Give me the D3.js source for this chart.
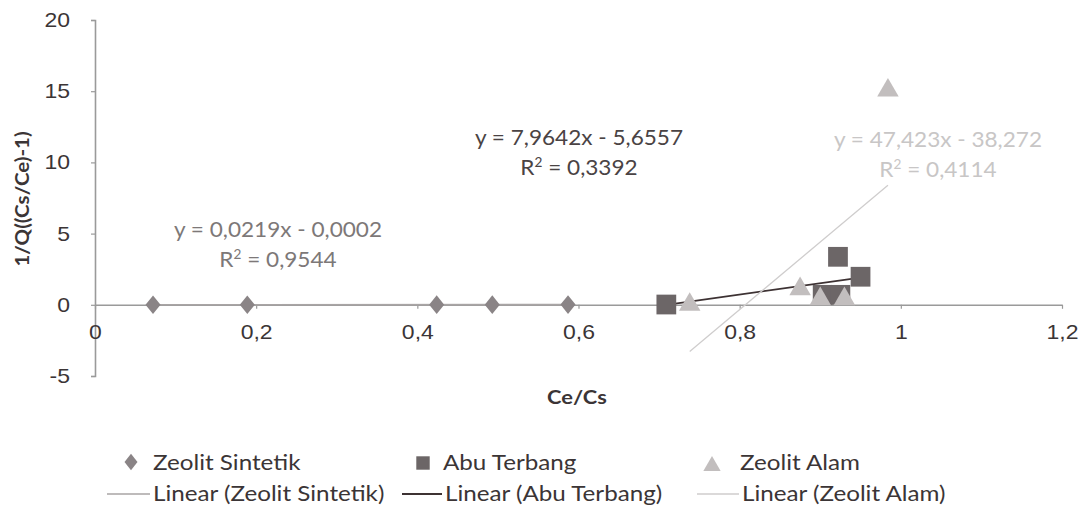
<!DOCTYPE html>
<html>
<head>
<meta charset="utf-8">
<script src="https://cdn.jsdelivr.net/npm/d3@7"></script>
<style>
  html, body { margin: 0; padding: 0; background: #ffffff; }
  svg { display: block; font-family: Lato, "Open Sans", sans-serif; }
</style>
</head>
<body>
<svg id="chart" width="1085" height="528"></svg>
<script>
// Series: Ce/Cs (x) against 1/Q((Cs/Ce)-1) (y)
const sintetikX = [0.072, 0.189, 0.424, 0.493, 0.587];
const sintetikY = [0.0016, 0.0036, 0.0094, 0.0103, 0.0128];

const abuX = [0.709, 0.903, 0.922, 0.925, 0.950];
const abuY = [0.02, 0.70, 3.37, 0.70, 1.97];

const alamX = [0.738, 0.875, 0.900, 0.930, 0.984];
const alamY = [0.15, 1.25, 0.55, 0.55, 15.2];

// Linear trend lines (slope, intercept) and their labels
const seriesNames = ["Zeolit Sintetik", "Abu Terbang", "Zeolit Alam"];
const trendSlopes = [0.0219, 7.9642, 47.423];
const trendIntercepts = [-0.0002, -5.6557, -38.272];
const trendEquations = ["y = 0,0219x - 0,0002", "y = 7,9642x - 5,6557", "y = 47,423x - 38,272"];
const trendR2 = ["0,9544", "0,3392", "0,4114"];

// Axis ticks
const xTicks = [0, 0.2, 0.4, 0.6, 0.8, 1, 1.2];
const yTicks = [-5, 0, 5, 10, 15, 20];

const svg = d3.select("#chart");
const fmt = v => String(v).replace(".", ",");

const x = d3.scaleLinear().domain([0, 1.2]).range([95, 1062]);
const y = d3.scaleLinear().domain([-5, 20]).range([376, 20]);

const axisColor = "#9a9a9a";
const textColor = "#3b3536";

// Text placed at (px, py), widened horizontally by sx around its anchor
function label(parent, px, py, str, opts) {
  const o = Object.assign({ size: 21, sx: 1.1, anchor: "start", fill: textColor, weight: "normal" }, opts);
  return parent.append("text")
    .attr("transform", `translate(${px},${py}) scale(${o.sx},1)`)
    .attr("text-anchor", o.anchor)
    .attr("font-size", o.size)
    .attr("font-weight", o.weight)
    .attr("fill", o.fill)
    .text(str);
}

const tickSize = 20, tickSx = 1.15;

// Vertical axis
const yAxis = svg.append("g")
  .attr("transform", `translate(${x(0)},0)`)
  .call(d3.axisLeft(y).tickValues(yTicks).tickSize(4).tickPadding(21).tickFormat(d => d));
yAxis.select(".domain").attr("stroke", axisColor).attr("stroke-width", 1.6);
yAxis.selectAll(".tick line").attr("stroke", axisColor).attr("stroke-width", 1.2);
yAxis.selectAll(".tick text")
  .attr("fill", textColor).attr("font-size", tickSize)
  .attr("x", -25 / tickSx)
  .attr("transform", `scale(${tickSx},1)`);

// Horizontal axis on the zero line
const xAxis = svg.append("g")
  .attr("transform", `translate(0,${y(0)})`)
  .call(d3.axisBottom(x).tickValues(xTicks).tickSizeInner(4).tickSizeOuter(0).tickPadding(16).tickFormat(fmt));
xAxis.select(".domain").attr("stroke", axisColor).attr("stroke-width", 1.6);
xAxis.selectAll(".tick line").attr("stroke", axisColor).attr("stroke-width", 1.2);
xAxis.selectAll(".tick text")
  .attr("fill", textColor).attr("font-size", tickSize)
  .attr("transform", `scale(${tickSx},1)`);

// Axis titles
label(svg, 577, 404, "Ce/Cs", { size: 19, sx: 1.15, anchor: "middle", weight: "bold" });
svg.append("text")
  .attr("transform", `translate(29,199) rotate(-90) scale(1.08,1)`)
  .attr("text-anchor", "middle")
  .attr("font-size", 19).attr("font-weight", "bold").attr("fill", textColor)
  .text("1/Q((Cs/Ce)-1)");

// Trend line styles
const trendColors = ["#a9a5a5", "#3d3233", "#cfcdcd"];
const trendWidths = [1.6, 1.8, 1.3];
const seriesX = [sintetikX, abuX, alamX];

seriesX.forEach((xs, i) => {
  const x0 = d3.min(xs), x1 = d3.max(xs);
  const f = v => trendSlopes[i] * v + trendIntercepts[i];
  svg.append("line")
    .attr("x1", x(x0)).attr("y1", y(f(x0)))
    .attr("x2", x(x1)).attr("y2", y(f(x1)))
    .attr("stroke", trendColors[i])
    .attr("stroke-width", trendWidths[i]);
});

// Markers
const diamond = d3.symbol().type(d3.symbolDiamond).size(100);
const square = d3.symbol().type(d3.symbolSquare).size(390);
const triangle = d3.symbol().type(d3.symbolTriangle).size(200);

const markerColors = ["#8a8486", "#6c6667", "#c2bebe"];

svg.append("g").selectAll("path")
  .data(d3.zip(sintetikX, sintetikY))
  .join("path")
  .attr("d", diamond)
  .attr("transform", d => `translate(${x(d[0])},${y(d[1])}) scale(1.4,1)`)
  .attr("fill", markerColors[0]);

svg.append("g").selectAll("path")
  .data(d3.zip(abuX, abuY))
  .join("path")
  .attr("d", square)
  .attr("transform", d => `translate(${x(d[0])},${y(d[1])})`)
  .attr("fill", markerColors[1]);

svg.append("g").selectAll("path")
  .data(d3.zip(alamX, alamY))
  .join("path")
  .attr("d", triangle)
  .attr("transform", d => `translate(${x(d[0])},${y(d[1]) + 2})`)
  .attr("fill", markerColors[2]);

// Trend equation labels
const labelPos = [[278, 237], [579, 145], [938, 147]];
const labelColors = ["#7d7878", "#4a4344", "#c8c6c6"];
labelPos.forEach((p, i) => {
  label(svg, p[0], p[1], trendEquations[i], { size: 21.5, sx: 1.05, anchor: "middle", fill: labelColors[i] });
  const r = label(svg, p[0], p[1] + 30, "", { size: 21.5, sx: 1.05, anchor: "middle", fill: labelColors[i] });
  r.append("tspan").text("R");
  r.append("tspan").attr("dy", -8).attr("font-size", 13).text("2");
  r.append("tspan").attr("dy", 8).text(" = " + trendR2[i]);
});

// Legend: marker row
const legendMarkerX = [131, 423, 712];
const legendMarkerY = [462, 463, 466];
const legendTextX = [153, 443, 740];
const legendSym = [
  d3.symbol().type(d3.symbolDiamond).size(80),
  d3.symbol().type(d3.symbolSquare).size(180),
  d3.symbol().type(d3.symbolTriangle).size(130)
];
const legendSx = [1.35, 1, 1];
legendMarkerX.forEach((mx, i) => {
  svg.append("path")
    .attr("d", legendSym[i])
    .attr("transform", `translate(${mx},${legendMarkerY[i]}) scale(${legendSx[i]},1)`)
    .attr("fill", markerColors[i]);
  label(svg, legendTextX[i], 470, seriesNames[i], { size: 22, sx: 1.1 });
});

// Legend: trend line row
const legendLineX = [[107, 150], [402, 442], [697, 739]];
const legendLineTextX = [153, 445, 742];
legendLineX.forEach((lx, i) => {
  svg.append("line")
    .attr("x1", lx[0]).attr("x2", lx[1])
    .attr("y1", 494).attr("y2", 494)
    .attr("stroke", trendColors[i]).attr("stroke-width", trendWidths[i]);
  label(svg, legendLineTextX[i], 501, "Linear (" + seriesNames[i] + ")", { size: 22, sx: 1.1 });
});
</script>
</body>
</html>
